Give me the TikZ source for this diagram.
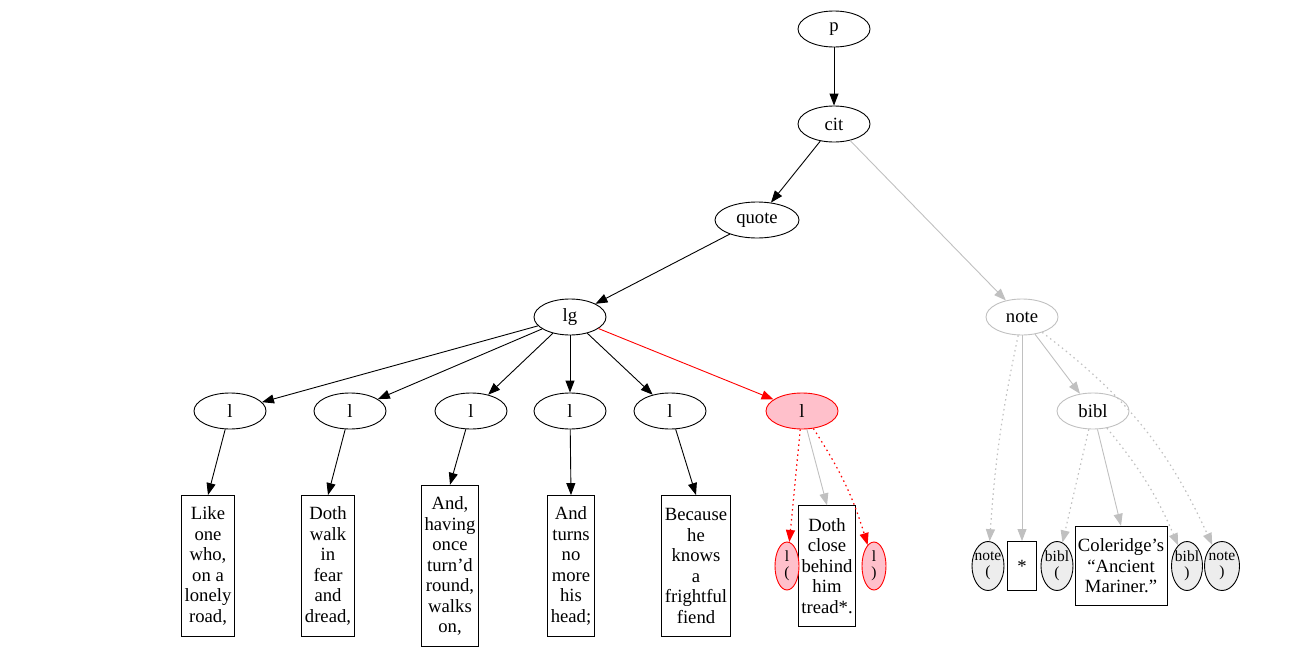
\documentclass[tikz,border=0pt]{standalone}
\usepackage{fontspec}
\setmainfont{Liberation Serif}
\usepackage{xcolor}
\usetikzlibrary{shapes.geometric,arrows.meta}

\definecolor{edgegray}{HTML}{C0C0C0}
\definecolor{hitpink}{HTML}{FFC0CB}
\definecolor{delimgray}{HTML}{EDEDED}
\newcommand{\tight}[1]{\makebox[0pt]{#1}}

\begin{document}
\begin{tikzpicture}[x=1pt, y=-1pt,
        every node/.style={font=\fontsize{18.67}{20.5}\selectfont},
        elem/.style={ellipse, draw=black, line width=0.9pt, minimum width=72pt, minimum height=36pt, inner sep=0pt},
        ghost/.style={elem, draw=edgegray},
        hit/.style={elem, draw=red, fill=hitpink},
        txt/.style={rectangle, draw=black, line width=0.9pt, align=center, inner xsep=3pt, inner ysep=0pt, minimum height=#1*20.5pt+18pt},
        delim/.style={ellipse, draw=black, line width=0.9pt, fill=delimgray, inner sep=0pt, minimum height=49pt, align=center, font=\fontsize{15.5}{16}\selectfont},
        link/.style={-{Triangle[length=12pt,width=9pt]}, line width=0.9pt},
        soft/.style={link, draw=edgegray},
        dots/.style={line width=1.2pt, dash pattern=on 1.5pt off 3.5pt}
    ]
        \useasboundingbox (0,0) rectangle (1309,653);

        % Top of the tree
        \node[elem] (p) at (834, 29) {p};
        \node[elem] (cit) at (834, 124) {cit};
        \node[elem, minimum width=84pt] (quote) at (757, 220) {quote};
        \node[elem] (lg) at (570, 317) {lg};

        % Lines
        \node[elem] (l1) at (230, 411) {l};
        \node[elem] (l2) at (350, 411) {l};
        \node[elem] (l3) at (471, 411) {l};
        \node[elem] (l4) at (570, 411) {l};
        \node[elem] (l5) at (670, 411) {l};
        \node[hit] (l6) at (802, 411) {l};

        % Verse text
        \node[txt=6] (t1) at (208, 566) {Like\\one\\who,\\on a\\lonely\\road,};
        \node[txt=6] (t2) at (328, 566) {Doth\\walk\\in\\fear\\and\\dread,};
        \node[txt=7] (t3) at (450, 566) {And,\\having\\once\\turn’d\\round,\\walks\\on,};
        \node[txt=6] (t4) at (571, 566) {And\\turns\\no\\more\\his\\head;};
        \node[txt=6] (t5) at (696, 566) {Because\\he\\knows\\a\\frightful\\fiend};
        \node[txt=5] (t6) at (827, 566) {Doth\\close\\behind\\him\\tread*.};
        \node[delim, draw=red, fill=hitpink, minimum width=24pt, minimum height=48pt] (lo) at (787, 566) {\tight{l}\\\tight{(}};
        \node[delim, draw=red, fill=hitpink, minimum width=24pt, minimum height=48pt] (lc) at (874, 566) {\tight{l}\\\tight{)}};

        % Note
        \node[ghost] (note) at (1022, 317) {note};
        \node[ghost] (bibl) at (1093, 411) {bibl};
        \node[delim, minimum width=32pt] (no) at (988, 566) {\tight{note}\\\tight{(}};
        \node[txt=1, minimum width=29pt, minimum height=49pt] (star) at (1022, 566) {*};
        \node[delim, minimum width=32pt] (bo) at (1057, 566) {\tight{bibl}\\\tight{(}};
        \node[txt=3] (col) at (1121, 566) {Coleridge’s\\“Ancient\\Mariner.”};
        \node[delim, minimum width=31pt] (bc) at (1187, 566) {\tight{bibl}\\\tight{)}};
        \node[delim, minimum width=35pt] (nc) at (1222, 566) {\tight{note}\\\tight{)}};

        % Connections
        \draw[link] (p) -- (cit);
        \draw[link] (cit) -- (quote);
        \draw[soft] (cit) -- (note);
        \draw[link] (quote) -- (lg);
        \foreach \i in {1,...,5} {
            \draw[link] (lg) -- (l\i);
            \draw[link] (l\i) -- (t\i.north);
        }
        \draw[link, red] (lg) -- (l6);
        \draw[link, red, dots] (l6) -- (lo);
        \draw[soft] (l6) -- (t6.north);
        \draw[link, red, dots] (l6) to[bend left=8] (lc);

        \draw[soft, dots] (note) to[bend right=4] (no);
        \draw[soft] (note) -- (star.north);
        \draw[soft] (note) -- (bibl);
        \draw[soft, dots] (note) to[bend left=14] (nc);
        \draw[soft, dots] (bibl) -- (bo);
        \draw[soft] (bibl) -- (col.north);
        \draw[soft, dots] (bibl) to[bend left=8] (bc);
    \end{tikzpicture}
\end{document}
